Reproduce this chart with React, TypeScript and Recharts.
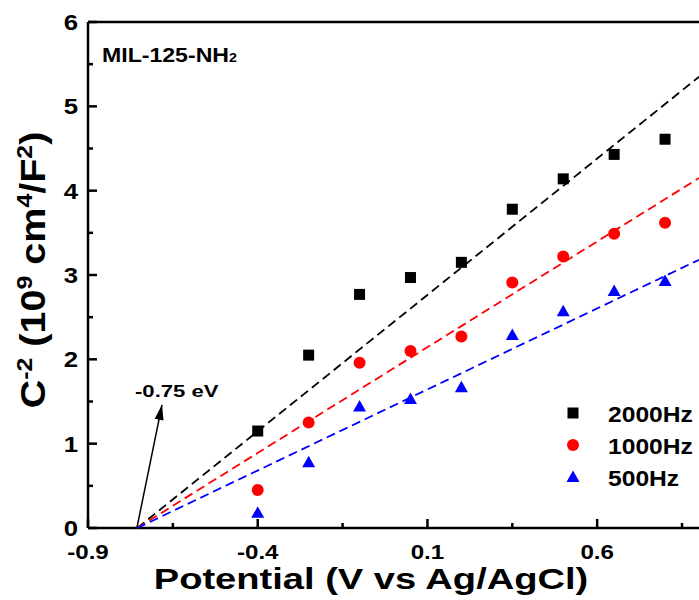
import React from "react";
import { ComposedChart, Scatter, XAxis, YAxis, ReferenceLine } from "recharts";

// potential (V vs Ag/AgCl) of each measurement
const potential = [-0.4, -0.25, -0.1, 0.05, 0.2, 0.35, 0.5, 0.65, 0.8];
// C^-2 in 10^9 cm^4/F^2
const hz2000 = [1.15, 2.05, 2.77, 2.97, 3.15, 3.78, 4.14, 4.43, 4.61];
const hz1000 = [0.45, 1.25, 1.96, 2.1, 2.27, 2.91, 3.22, 3.49, 3.62];
const hz500 = [0.18, 0.78, 1.44, 1.53, 1.67, 2.29, 2.57, 2.81, 2.93];

// Mott-Schottky fit lines (start at the x-intercept, end at the right edge)
const fitX = [-0.755, 0.9];
const fit2000 = [0, 5.35];
const fit1000 = [0, 4.15];
const fit500 = [0, 3.18];

// arrow pointing to the flat-band potential
const arrowX = [-0.756, -0.682];
const arrowY = [0, 1.46];

const xTicks = [-0.9, -0.65, -0.4, -0.15, 0.1, 0.35, 0.6, 0.85];
const xLabels = [-0.9, -0.4, 0.1, 0.6];
const yTicks = [0, 0.5, 1, 1.5, 2, 2.5, 3, 3.5, 4, 4.5, 5, 5.5, 6];
const yLabels = [0, 1, 2, 3, 4, 5, 6];

const FONT = "'Liberation Sans', Arial, sans-serif";

const toPts = (xs: number[], ys: number[]) => xs.map((x, i) => ({ x, y: ys[i] }));

const isLabel = (v: number, list: number[]) => list.some((l) => Math.abs(l - v) < 1e-6);

const SText = ({ x, y, sx = 1.3, anchor = "middle", size = 20, children }: any) => (
  <text
    transform={`translate(${x},${y}) scale(${sx},1)`}
    textAnchor={anchor}
    fontSize={size}
    fontWeight="bold"
    fontFamily={FONT}
    fill="#000"
  >
    {children}
  </text>
);

// ticks point inward, minor ones are shorter
const XTick = (props: any) => {
  const { x, y, payload } = props;
  const major = isLabel(payload.value, xLabels);
  return (
    <g>
      <line x1={x} y1={y} x2={x} y2={y - (major ? 9 : 5)} stroke="#000" strokeWidth={2.5} />
      {major && (
        <SText x={x} y={y + 31} size={21} sx={1.15}>
          {String(payload.value)}
        </SText>
      )}
    </g>
  );
};

const YTick = (props: any) => {
  const { x, y, payload } = props;
  const major = isLabel(payload.value, yLabels);
  return (
    <g>
      <line x1={x} y1={y} x2={x + (major ? 9 : 5)} y2={y} stroke="#000" strokeWidth={2.5} />
      {major && (
        <SText x={x - 10} y={y + 8} anchor="end" size={23} sx={1.12}>
          {String(payload.value)}
        </SText>
      )}
    </g>
  );
};

const Square = ({ cx, cy, fill }: any) => (
  <rect x={cx - 5.5} y={cy - 5.5} width={11} height={11} fill={fill} />
);
const Dot = ({ cx, cy, fill }: any) => <circle cx={cx} cy={cy} r={6} fill={fill} />;
const Tri = ({ cx, cy, fill }: any) => (
  <polygon points={`${cx},${cy - 6.5} ${cx + 6.5},${cy + 5} ${cx - 6.5},${cy + 5}`} fill={fill} />
);
const NoShape = () => <g />;
const ArrowHead = ({ cx, cy, payload }: any) =>
  payload.y > 0 ? (
    <polygon
      points={`${cx},${cy} ${cx + 4.5},${cy + 15} ${cx - 4.5},${cy + 15}`}
      transform={`rotate(11, ${cx}, ${cy})`}
      fill="#000"
    />
  ) : (
    <g />
  );

const legendItems = [
  { name: "2000Hz", color: "#000000", shape: Square },
  { name: "1000Hz", color: "#FF0000", shape: Dot },
  { name: "500Hz", color: "#0000FF", shape: Tri },
];

const Overlay = () => (
  <svg
    width={699}
    height={600}
    style={{ position: "absolute", left: 0, top: 0, pointerEvents: "none" }}
  >
    <SText x={102} y={62} anchor="start" size={21} sx={1.1}>
      MIL-125-NH
      <tspan fontSize={13}>2</tspan>
    </SText>
    <SText x={135} y={397} anchor="start" size={17} sx={1.3}>
      -0.75 eV
    </SText>
    {legendItems.map((it, i) => {
      const cy = 413 + i * 32;
      const Shape = it.shape;
      return (
        <g key={it.name}>
          <Shape cx={573} cy={cy} fill={it.color} />
          <SText x={608} y={cy + 9} anchor="start" size={22} sx={1.12}>
            {it.name}
          </SText>
        </g>
      );
    })}
    {/* axis titles */}
    <SText x={371} y={589} size={30} sx={1.27}>
      Potential (V vs Ag/AgCl)
    </SText>
    <text
      transform="translate(45,270) rotate(-90) scale(1.13,1)"
      textAnchor="middle"
      fontSize={35}
      fontWeight="bold"
      fontFamily={FONT}
      fill="#000"
    >
      C
      <tspan dy={-13} fontSize={22}>-2</tspan>
      <tspan dy={13}> (10</tspan>
      <tspan dy={-13} fontSize={22}>9</tspan>
      <tspan dy={13}> cm</tspan>
      <tspan dy={-13} fontSize={22}>4</tspan>
      <tspan dy={13}>/F</tspan>
      <tspan dy={-13} fontSize={22}>2</tspan>
      <tspan dy={13}>)</tspan>
    </text>
  </svg>
);

const dash = "9 5";

export default function App() {
  return (
    <div style={{ position: "absolute", left: 0, top: 0, width: 699, height: 600, background: "#fff" }}>
      <ComposedChart width={699} height={600} margin={{ top: 22, right: 0, left: 0, bottom: 0 }}>
        <XAxis
          type="number"
          dataKey="x"
          domain={[-0.9, 0.9]}
          ticks={xTicks}
          allowDataOverflow
          height={72}
          tickSize={0}
          tickMargin={0}
          tickLine={false}
          axisLine={{ stroke: "#000", strokeWidth: 2.5 }}
          tick={<XTick />}
          interval={0}
        />
        <YAxis
          type="number"
          dataKey="y"
          domain={[0, 6]}
          ticks={yTicks}
          width={88}
          tickSize={0}
          tickMargin={0}
          tickLine={false}
          axisLine={{ stroke: "#000", strokeWidth: 2.5 }}
          tick={<YTick />}
          interval={0}
        />
        <ReferenceLine y={6} stroke="#000" strokeWidth={2.5} />
        <Scatter
          data={toPts(fitX, fit2000)}
          line={{ stroke: "#000000", strokeWidth: 1.8, strokeDasharray: dash }}
          shape={<NoShape />}
          isAnimationActive={false}
        />
        <Scatter
          data={toPts(fitX, fit1000)}
          line={{ stroke: "#FF0000", strokeWidth: 1.8, strokeDasharray: dash }}
          shape={<NoShape />}
          isAnimationActive={false}
        />
        <Scatter
          data={toPts(fitX, fit500)}
          line={{ stroke: "#0000FF", strokeWidth: 1.8, strokeDasharray: dash }}
          shape={<NoShape />}
          isAnimationActive={false}
        />
        <Scatter
          data={toPts(arrowX, arrowY)}
          line={{ stroke: "#000", strokeWidth: 1.5 }}
          shape={<ArrowHead />}
          isAnimationActive={false}
        />
        <Scatter name="2000Hz" data={toPts(potential, hz2000)} fill="#000000" shape={<Square />} isAnimationActive={false} />
        <Scatter name="1000Hz" data={toPts(potential, hz1000)} fill="#FF0000" shape={<Dot />} isAnimationActive={false} />
        <Scatter name="500Hz" data={toPts(potential, hz500)} fill="#0000FF" shape={<Tri />} isAnimationActive={false} />
      </ComposedChart>
      <Overlay />
    </div>
  );
}
